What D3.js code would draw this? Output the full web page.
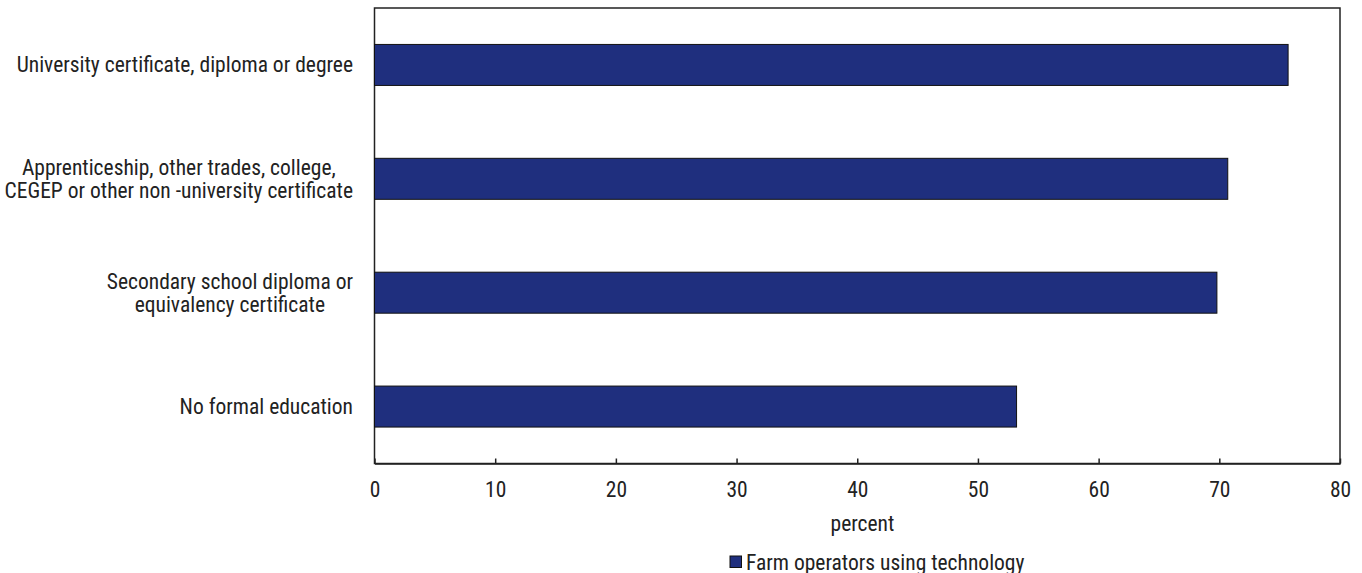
<!DOCTYPE html>
<html><head><meta charset="utf-8">
<script src="https://cdn.jsdelivr.net/npm/d3@7"></script>
<style>
body{margin:0;background:#fff;}
text{font-family:"Roboto Condensed","Arial Narrow",sans-serif;fill:#222;}
</style></head>
<body><svg id="c" width="1362" height="573"></svg>
<script>
const categories = [
  ["University certificate, diploma or degree"],
  ["Apprenticeship, other trades, college,", "CEGEP or other non -university certificate"],
  ["Secondary school diploma or", "equivalency certificate"],
  ["No formal education"]
];
const values = [75.7, 70.7, 69.8, 53.2];
const xTicks = [0, 10, 20, 30, 40, 50, 60, 70, 80];
const seriesName = "Farm operators using technology";
const axisTitle = "percent";

const svg = d3.select("#c");
const FS = "21.5px";
const FF = "'Roboto Condensed','Arial Narrow',sans-serif";
const m = {left: 374.5, right: 1340, top: 8, bottom: 463.5};
const x = d3.scaleLinear().domain([0, 80]).range([m.left, m.right]);
const y = d3.scaleBand().domain(d3.range(categories.length)).range([m.top, m.bottom]).paddingInner(0.64).paddingOuter(0.32);
const barColor = "#1f2f7e";

// frame
svg.append("rect").attr("x", m.left).attr("y", m.top).attr("width", m.right - m.left).attr("height", m.bottom - m.top)
  .attr("fill", "none").attr("stroke", "#222").attr("stroke-width", 1.5);

// bars
svg.selectAll("rect.bar").data(values).enter().append("rect").attr("class", "bar")
  .attr("x", x(0)).attr("y", (d, i) => y(i)).attr("width", d => x(d) - x(0)).attr("height", y.bandwidth())
  .attr("fill", barColor).attr("stroke", "#111").attr("stroke-width", 1);

// x axis
const ax = svg.append("g").attr("transform", `translate(0,${m.bottom})`)
  .call(d3.axisBottom(x).tickValues(xTicks).tickSizeInner(-5).tickSizeOuter(0).tickPadding(18));
ax.select(".domain").attr("stroke", "#222").attr("stroke-width", 1.5);
ax.selectAll(".tick line").attr("stroke", "#222").attr("stroke-width", 1.5);
ax.selectAll(".tick text").style("font-size", FS).style("font-family", FF).attr("fill", "#222");

// category labels
const rightEdge = 353;
categories.forEach((lines, i) => {
  const cy = y(i) + y.bandwidth() / 2;
  const lh = 23;
  const g = svg.append("g");
  const ts = lines.map((l, j) => g.append("text").text(l).style("font-size", FS)
    .attr("y", cy + (j - (lines.length - 1) / 2) * lh).attr("dy", "0.35em"));
  const widths = ts.map(t => t.node().getComputedTextLength());
  const maxW = d3.max(widths);
  ts.forEach(t => t.attr("text-anchor", "middle").attr("x", rightEdge - maxW / 2));
});

// axis title
svg.append("text").attr("x", 862.5).attr("y", 531).attr("text-anchor", "middle")
  .style("font-size", FS).text(axisTitle);

// legend
svg.append("rect").attr("x", 730).attr("y", 556).attr("width", 11.5).attr("height", 11.5)
  .attr("fill", barColor).attr("stroke", "#111").attr("stroke-width", 1);
svg.append("text").attr("x", 746).attr("y", 569.5).style("font-size", FS).text(seriesName);
</script></body></html>
